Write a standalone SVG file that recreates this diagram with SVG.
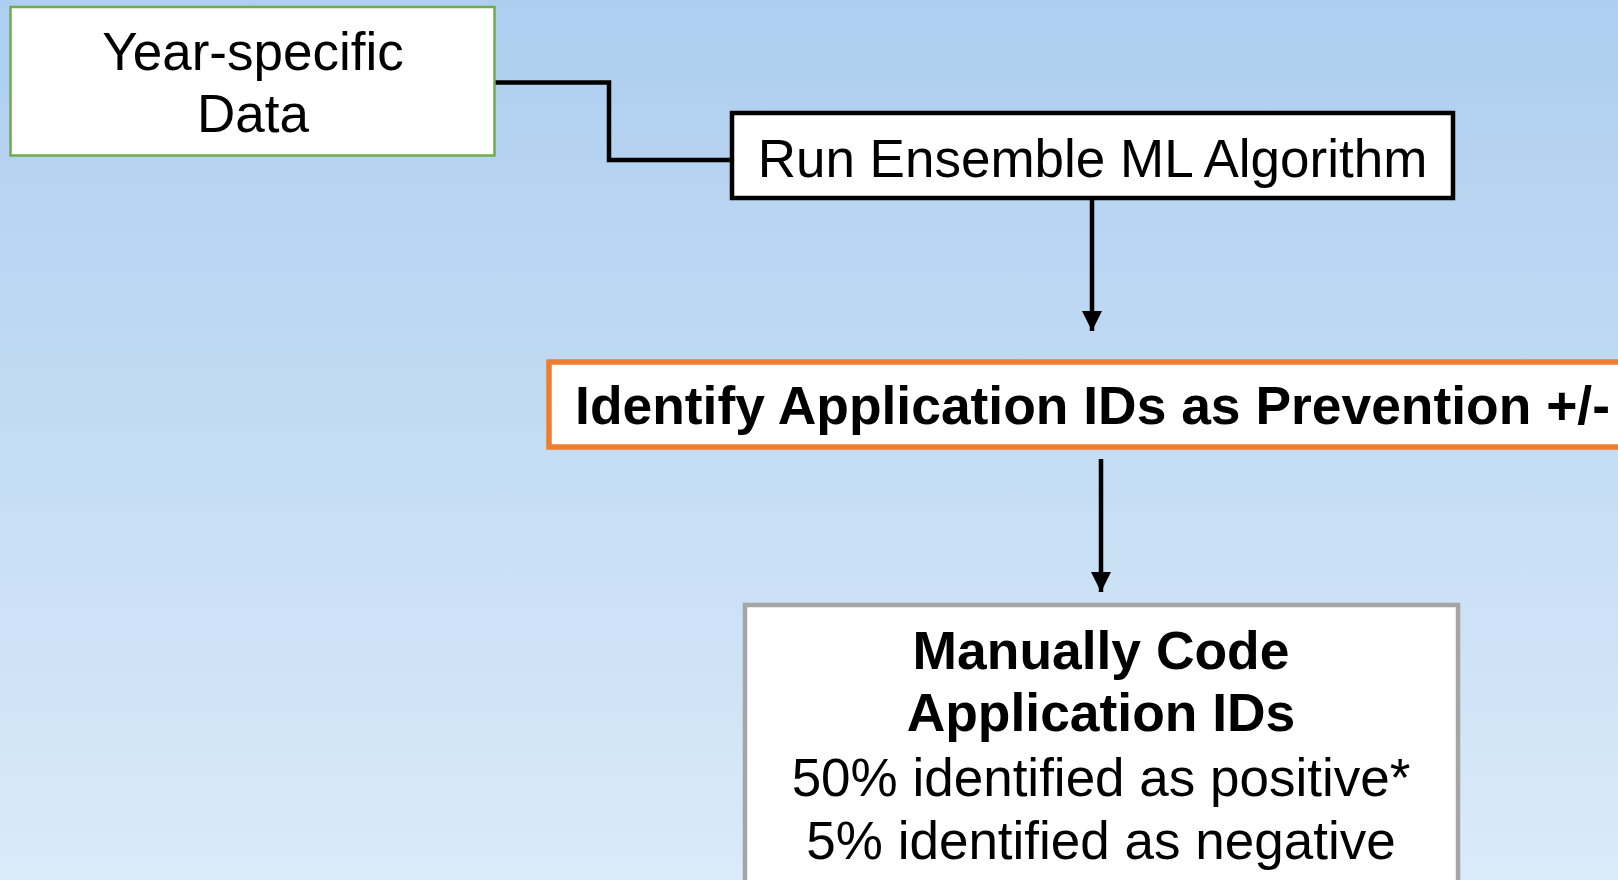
<svg xmlns="http://www.w3.org/2000/svg" width="1618" height="880" viewBox="0 0 1618 880">
<defs>
<linearGradient id="bg" x1="0" y1="0" x2="0" y2="1">
<stop offset="0" stop-color="#ADCEEF"/>
<stop offset="1" stop-color="#DAEAF9"/>
</linearGradient>
<marker id="arr" viewBox="0 0 10 10" refX="10" refY="5" markerWidth="4.5" markerHeight="4.5" markerUnits="strokeWidth" orient="auto">
<path d="M0,0 L10,5 L0,10 z" fill="#000"/>
</marker>
<style>
.reg{font-family:"Liberation Sans",Arial,sans-serif;font-size:53px;fill:#000;text-anchor:middle}
.bold{font-family:"Liberation Sans",Arial,sans-serif;font-size:53.4px;font-weight:bold;fill:#000;text-anchor:middle}
.conn{fill:none;stroke:#000;stroke-width:4.5}
</style>
</defs>
<rect x="0" y="0" width="1618" height="880" fill="url(#bg)"/>
<g id="connectors">
<path class="conn" d="M495,82.5 H609 V160 H732"/>
<path class="conn" d="M1092,198 V331" marker-end="url(#arr)"/>
<path class="conn" d="M1101,459 V592" marker-end="url(#arr)"/>
</g>
<g id="year-data">
<rect x="10.5" y="7" width="484" height="148.5" fill="#fff" stroke="#70AD47" stroke-width="2.5"/>
<text class="reg" x="253" y="70">Year-specific</text>
<text class="reg" x="253" y="132">Data</text>
</g>
<g id="run-ensemble">
<rect x="732" y="113" width="721" height="85" fill="#fff" stroke="#000" stroke-width="4.5"/>
<text class="reg" x="1092.5" y="177">Run Ensemble ML Algorithm</text>
</g>
<g id="identify">
<rect x="549" y="362" width="1100" height="85" fill="#fff" stroke="#ED7D31" stroke-width="5.5"/>
<text class="bold" x="1092.5" y="424">Identify Application IDs as Prevention +/-</text>
</g>
<g id="manual-code">
<rect x="745" y="605" width="713" height="300" fill="#fff" stroke="#A5A5A5" stroke-width="4.5"/>
<text class="bold" x="1101" y="669">Manually Code</text>
<text class="bold" x="1101" y="731">Application IDs</text>
<text class="reg" x="1101" y="796">50% identified as positive*</text>
<text class="reg" x="1101" y="859">5% identified as negative</text>
</g>
</svg>
